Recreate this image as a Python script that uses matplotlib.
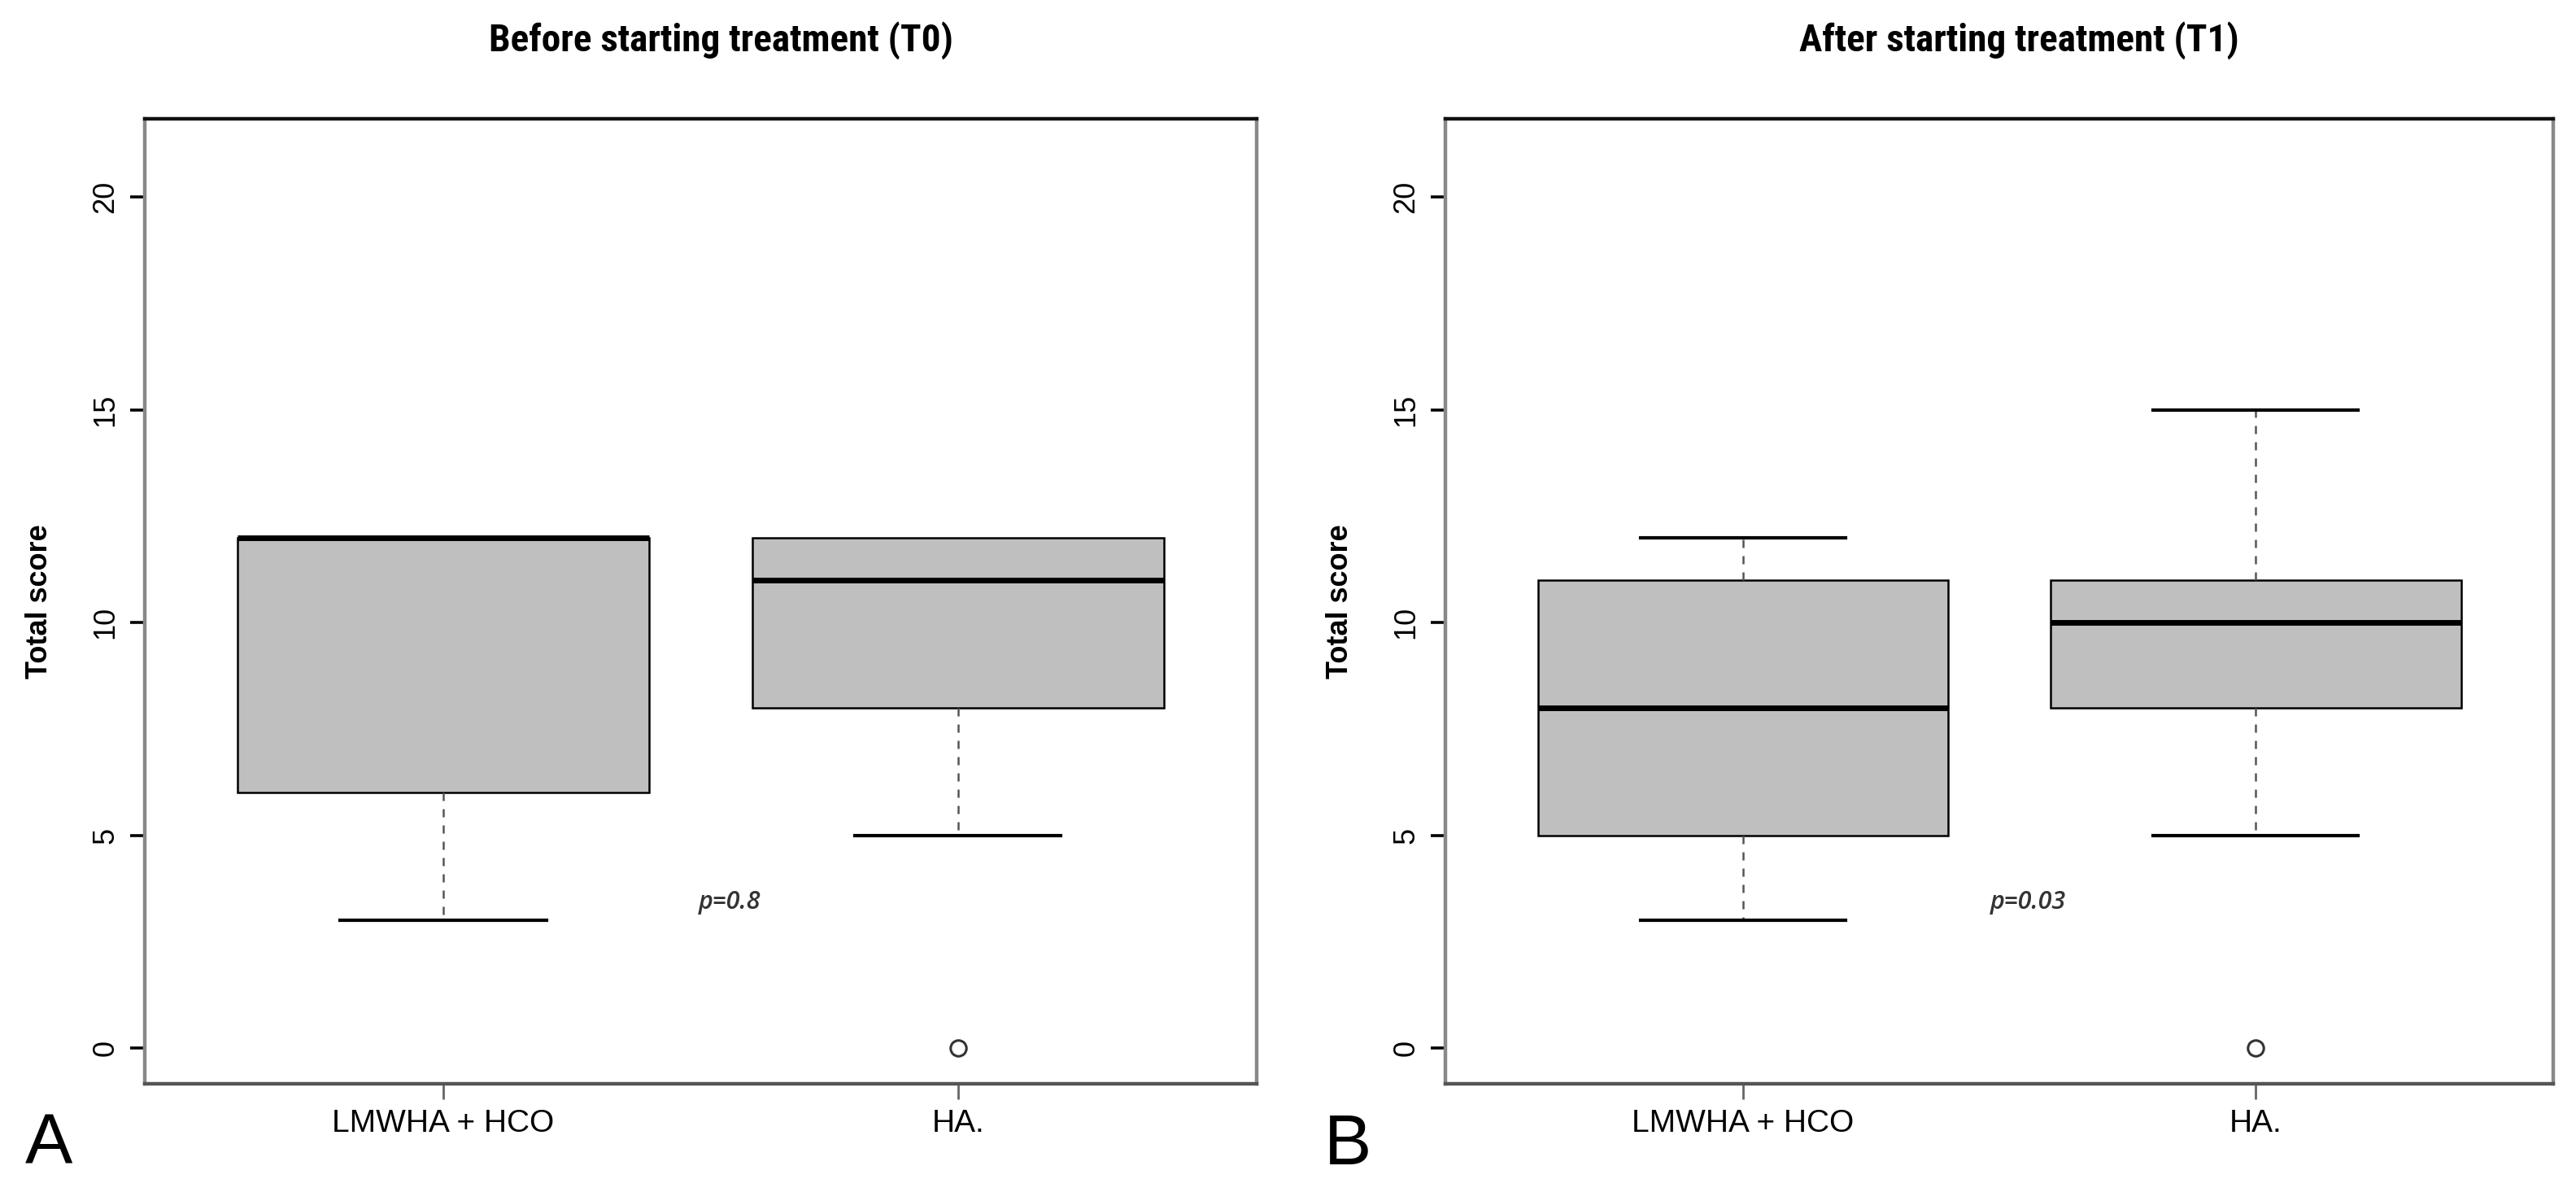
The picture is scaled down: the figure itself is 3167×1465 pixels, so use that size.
import matplotlib
matplotlib.use("Agg")
import matplotlib.pyplot as plt
from matplotlib import font_manager

# data
groups = ["LMWHA + HCO", "HA."]
panel_titles = ["Before starting treatment (T0)", "After starting treatment (T1)"]
panel_letters = ["A", "B"]
p_values = ["p=0.8", "p=0.03"]

t0_whislo = [3, 5]
t0_q1 = [6, 8]
t0_med = [12, 11]
t0_q3 = [12, 12]
t0_whishi = [12, 12]
t0_fliers = [[], [0]]

t1_whislo = [3, 5]
t1_q1 = [5, 8]
t1_med = [8, 10]
t1_q3 = [11, 11]
t1_whishi = [12, 15]
t1_fliers = [[], [0]]

y_ticks = [0, 5, 10, 15, 20]


def pick_font(names):
    for name in names:
        try:
            font_manager.findfont(font_manager.FontProperties(family=name),
                                  fallback_to_default=False)
            return name
        except Exception:
            pass
    return "DejaVu Sans"


narrow = pick_font(["Liberation Sans Narrow", "Roboto Condensed", "Open Sans Condensed"])
has_narrow = narrow != "DejaVu Sans"
sans = pick_font(["Liberation Sans", "Arimo", "DejaVu Sans"])
pfont = pick_font(["Open Sans", "Noto Sans", "DejaVu Sans"])


def make_stats(whislo, q1, med, q3, whishi, fliers):
    stats = []
    for i in range(len(groups)):
        stats.append(dict(whislo=whislo[i], q1=q1[i], med=med[i], q3=q3[i],
                          whishi=whishi[i], fliers=fliers[i], label=groups[i]))
    return stats


panels = [
    make_stats(t0_whislo, t0_q1, t0_med, t0_q3, t0_whishi, t0_fliers),
    make_stats(t1_whislo, t1_q1, t1_med, t1_q3, t1_whishi, t1_fliers),
]

fig = plt.figure(figsize=(31.67, 14.65), dpi=100)
fig.patch.set_facecolor("white")

axes_rects = [[0.0562, 0.0908, 0.4316, 0.8095],
              [0.5611, 0.0908, 0.4301, 0.8095]]
title_x = [0.2798, 0.7837]
letter_x = [0.0098, 0.5140]

for k in range(2):
    ax = fig.add_axes(axes_rects[k])
    parts = ax.bxp(panels[k], positions=[1, 2], widths=0.8, patch_artist=True,
                   boxprops=dict(facecolor="#bfbfbf", edgecolor="black", linewidth=1.8),
                   medianprops=dict(color="black", linewidth=5, solid_capstyle="butt"),
                   whiskerprops=dict(color="#555555", linewidth=1.8, linestyle=(0, (4, 4))),
                   capprops=dict(color="black", linewidth=3),
                   capwidths=0.4,
                   flierprops=dict(marker="o", markerfacecolor="none",
                                   markeredgecolor="#333333", markersize=14,
                                   markeredgewidth=2.2, linestyle="none"))

    # a staple sitting on the box edge is hidden there in the original
    for i, st in enumerate(panels[k]):
        if st["whishi"] == st["q3"]:
            parts["caps"][2 * i + 1].set_visible(False)
        if st["whislo"] == st["q1"]:
            parts["caps"][2 * i].set_visible(False)

    ax.set_xlim(0.42, 2.58)
    ax.set_ylim(-0.84, 21.84)
    ax.set_yticks(y_ticks)
    ax.set_yticklabels([str(v) for v in y_ticks], fontsize=26, family=sans)
    ax.set_xticks([1, 2])
    ax.set_xticklabels(groups, fontsize=28, family=sans)
    ax.tick_params(axis="y", length=13, width=2.6, color="black", pad=9,
                   labelrotation=90)
    for lab in ax.get_yticklabels():
        lab.set_verticalalignment("center")
    ax.tick_params(axis="x", length=14, width=2.0, color="#666666", pad=8)

    ax.spines["top"].set_color("#111111")
    ax.spines["bottom"].set_color("#555555")
    ax.spines["left"].set_color("#888888")
    ax.spines["right"].set_color("#888888")
    for s in ax.spines.values():
        s.set_linewidth(3.2)

    ax.set_ylabel("Total score", fontsize=26, fontweight="bold", family=sans)
    ax.yaxis.set_label_coords(-0.082, 0.5)

    ax.text(1.556, 3.42, p_values[k], fontsize=22, style="italic", fontweight="semibold",
            family=pfont, color="#333333", ha="center", va="center")

    if has_narrow:
        fig.text(title_x[k], 0.957, panel_titles[k], fontsize=34, fontweight="bold",
                 family=narrow, ha="center", va="baseline")
    else:
        fig.text(title_x[k], 0.957, panel_titles[k], fontsize=28, fontweight="bold",
                 family=sans, ha="center", va="baseline")

    fig.text(letter_x[k], 0.0235, panel_letters[k], fontsize=63, family=sans,
             ha="left", va="baseline")

fig.savefig("out.png", dpi=100, facecolor="white")
